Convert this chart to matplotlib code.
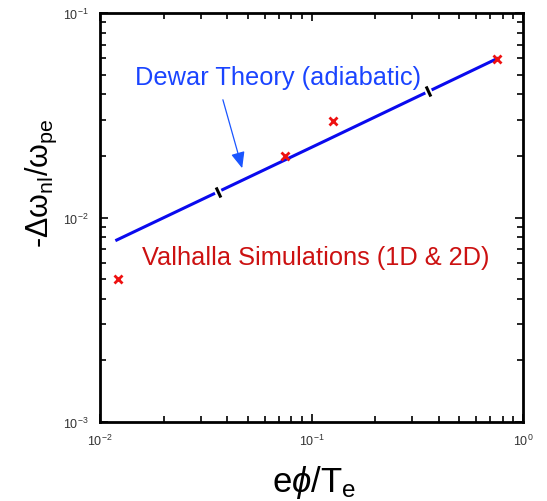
import matplotlib
matplotlib.use("Agg")
import matplotlib.pyplot as plt
import numpy as np

# Simulation data (red crosses)
sim_x = [0.0122, 0.075, 0.127, 0.753]
sim_y = [0.0050, 0.0199, 0.0297, 0.0597]

# Dewar theory (blue line)
th_x = [0.0120, 0.118, 0.753]
th_y = [0.00776, 0.0239, 0.0598]

# break marks on theory line
brk_x = [0.0362, 0.356]
brk_y = [0.0133, 0.0416]

plt.rcParams['font.family'] = ['Liberation Sans', 'DejaVu Sans']
plt.rcParams['mathtext.fontset'] = 'custom'
plt.rcParams['mathtext.rm'] = 'Liberation Sans'
plt.rcParams['mathtext.it'] = 'Liberation Sans:italic'

fig = plt.figure(figsize=(5.47, 5.02), dpi=100)
ax = fig.add_axes([100/547, 1-423/502, 423/547, 409/502])
ax.set_xscale('log')
ax.set_yscale('log')
ax.set_xlim(1e-2, 1e0)
ax.set_ylim(1e-3, 1e-1)

ax.plot(th_x, th_y, color='#0a0aee', lw=2.2, zorder=2)
ax.plot(sim_x, sim_y, 'x', color='#ee1111', ms=5.5, mew=2, zorder=3)

# break marks
for bx, by in zip(brk_x, brk_y):
    ax.plot([bx], [by], marker=(2, 0, 25), color='white', ms=12, mew=5, zorder=4)
    ax.plot([bx], [by], marker=(2, 0, 25), color='black', ms=8, mew=2.2, zorder=5)

ax.text(0.0146, 0.0487, 'Dewar Theory (adiabatic)', color='#1a44ff', fontsize=18.3,
        va='center', ha='left')
ax.annotate('', xy=(0.0474, 0.0169), xytext=(0.0378, 0.0388),
            arrowprops=dict(arrowstyle='-|>,head_length=0.7,head_width=0.3',
                            color='#1a55ff', lw=0.9, mutation_scale=14))
ax.text(0.0158, 0.00641, 'Valhalla Simulations (1D & 2D)', color='#cc1111', fontsize=18.3,
        va='center', ha='left')

fig.text(314/547, 1-492/502, r'e$\phi$/T$_{\mathrm{e}}$', fontsize=25,
         ha='center', va='baseline')
fig.text(41/547, 1-183/502, r'-$\mathrm{Δω_{nl}/ω_{pe}}$',
         fontsize=22, rotation=90, ha='center', va='center')

for s in ax.spines.values():
    s.set_linewidth(2)
ax.tick_params(which='both', direction='in', top=True, right=True, labelsize=9,
               labelcolor='#333333')
ax.tick_params(which='major', length=6, width=1.2, pad=8)
ax.tick_params(which='minor', length=4, width=1.2)

fig.savefig('out.png', dpi=100)
